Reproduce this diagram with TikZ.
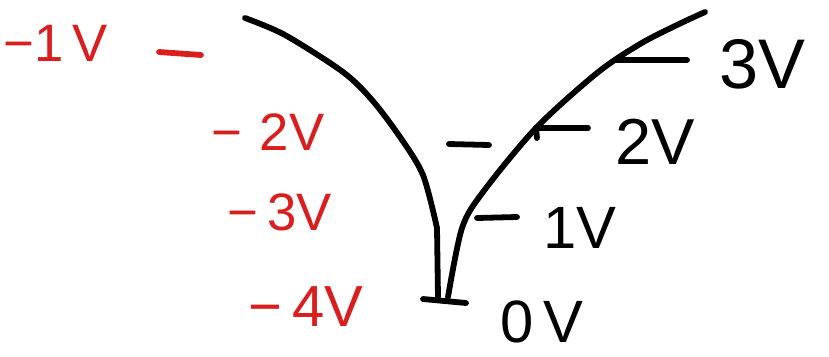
\documentclass[tikz,border=0pt]{standalone}
\usepackage{fontspec}
\setmainfont{Liberation Sans}
\usepackage{tikz}
\usetikzlibrary{calc}
\definecolor{redink}{RGB}{218,30,30}
\tikzset{
  ink/.style={line width=3.3pt, line cap=round, line join=round},
  redlbl/.style={text=redink, font=\fontsize{30}{30}\selectfont, inner sep=0pt},
  blklbl/.style={text=black, font=\fontsize{34}{34}\selectfont, inner sep=0pt}
}

\begin{document}
\begin{tikzpicture}[x=0.02cm, y=-0.02cm]
  \useasboundingbox (0,0) rectangle (829,356);
  % red labels
  \node[redlbl] (m1) at (56,43)   {−1\,V};
  \node[redlbl] (m2) at (268,132) {−\,\,2V};
  \node[redlbl] (m3) at (280,212) {−\,3V};
  \node[redlbl, font=\fontsize{33}{33}\selectfont] (m4) at (306,307) {−\,4V};
  % black labels
  \node[blklbl, font=\fontsize{40}{40}\selectfont] (p3) at (762,64) {3V};
  \node[blklbl, font=\fontsize{37}{37}\selectfont] (p2) at (655,142) {2V};
  \node[blklbl] (p1) at (580,228) {1V};
  \node[blklbl] (p0) at (542,322) {0\,V};
  % points on the curves
  \coordinate (c3) at (616,60);
  \coordinate (c2) at (536,128);
  \coordinate (c1) at (477,218);
  \coordinate (base) at (440,299);
  % curves
  \draw[ink] plot[smooth] coordinates {(245,18) (285,35) (343,72) (372,100)
    (400,137) (423,175) (437,228)} -- (438,297);
  \draw[ink] plot[smooth] coordinates {(448,297) (462,228) (483,192) (536,128)
    (597,73) (640,44) (677,25) (705,12)};
  % ticks
  \draw[ink] (c3) -- ++(71,0);
  \draw[ink] (c2) -- ++(52,0);
  \draw[ink] (c2) -- ++(1,10);
  \draw[ink] (c1) -- ++(40,-1);
  \draw[ink] ($(base)+(-17,0)$) -- ++(43,4);
  \draw[ink] (449,144) -- (489,145);
  \draw[ink, redink] (159,52) -- (201,55);
\end{tikzpicture}
\end{document}
